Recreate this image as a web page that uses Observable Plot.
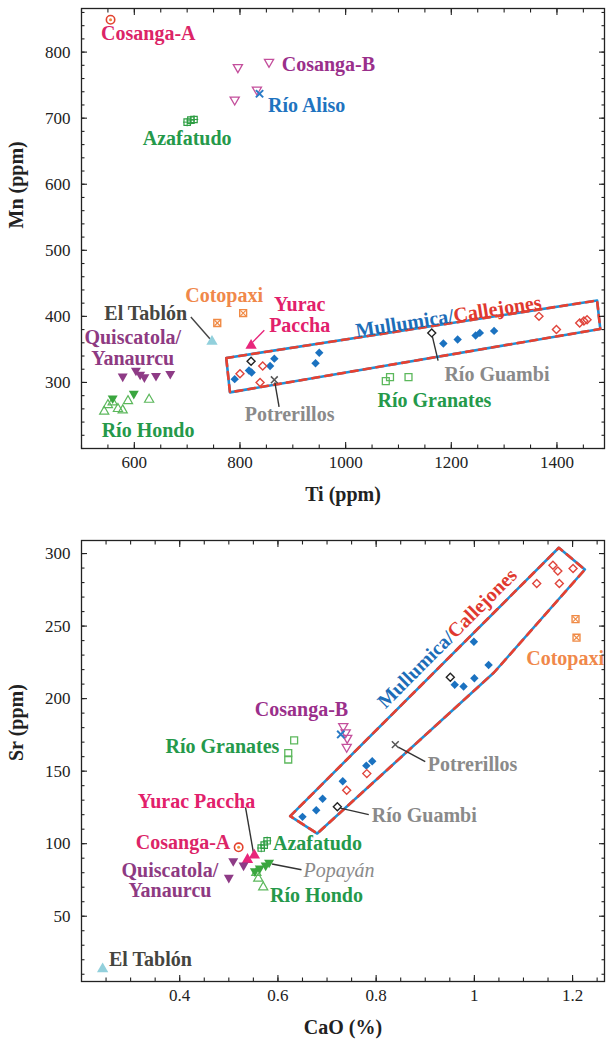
<!DOCTYPE html>
<html><head><meta charset="utf-8">
<script src="https://cdn.jsdelivr.net/npm/d3@7"></script>
<script src="https://cdn.jsdelivr.net/npm/@observablehq/plot@0.6"></script>
<style>
body{margin:0;background:#fff;}
#chart svg{display:block;}
</style></head><body><div id="chart"></div>
<script>
// ===== Top panel data: [Ti (ppm), Mn (ppm)] =====
const cosangaA_TiMn   = [[555, 849]];
const cosangaB_TiMn   = [[796, 777], [855, 785], [790, 728], [832, 743]];
const rioAliso_TiMn   = [[837, 737]];
const azafatudo_TiMn  = [[700, 694], [707, 697], [713, 698]];
const cotopaxi_TiMn   = [[757, 390], [806, 405]];
const yurac_TiMn      = [[821, 356]];
const elTablon_TiMn   = [[747, 362]];
const quiscatola_TiMn = [[578, 309], [603, 318], [611, 312], [619, 308], [641, 310], [668, 313]];
const rioHondo_TiMn   = [[543, 256], [550, 266], [559, 270], [569, 260], [578, 258], [588, 272], [628, 274]];
const popayan_TiMn    = [[559, 276], [599, 283]];
const mullumica_TiMn  = [[790, 305], [817, 318], [822, 315], [857, 325], [865, 336], [943, 329], [950, 345],
                         [1185, 359], [1212, 365], [1246, 371], [1254, 375], [1281, 378]];
const callejones_TiMn = [[800, 313], [843, 325], [838, 300], [1366, 400], [1399, 380], [1443, 390], [1451, 393], [1457, 395]];
const rioGuambi_TiMn  = [[821, 332], [1163, 375]];
const potrerillos_TiMn= [[865, 304]];
const rioGranates_TiMn= [[1076, 302], [1084, 308], [1119, 308]];

// ===== Bottom panel data: [CaO (%), Sr (ppm)] =====
const cosangaA_CaSr   = [[0.52, 97.5]];
const cosangaB_CaSr   = [[0.733, 181], [0.738, 176.7], [0.741, 172.8], [0.74, 166.7]];
const rioAliso_CaSr   = [[0.728, 175.3]];
const azafatudo_CaSr  = [[0.566, 97], [0.572, 99], [0.578, 102]];
const cotopaxi_CaSr   = [[1.206, 254.8], [1.208, 242]];
const yurac_CaSr      = [[0.538, 89], [0.552, 92]];
const elTablon_CaSr   = [[0.243, 13.6]];
const quiscatola_CaSr = [[0.509, 88], [0.53, 85], [0.5, 76.6]];
const rioHondo_CaSr   = [[0.556, 80], [0.56, 76], [0.57, 70]];
const popayan_CaSr    = [[0.553, 81], [0.563, 83], [0.575, 85], [0.582, 87]];
const mullumica_CaSr  = [[0.65, 118.5], [0.678, 123], [0.691, 131], [0.732, 143], [0.78, 153.8], [0.792, 156.8],
                         [0.96, 209.5], [0.978, 208.3], [1.0, 214.1], [0.999, 239.2], [1.029, 223.2]];
const callejones_CaSr = [[0.74, 136.8], [0.781, 148.3], [1.127, 279.4], [1.16, 292], [1.17, 288], [1.173, 279.4], [1.201, 289.7]];
const rioGuambi_CaSr  = [[0.721, 125.4], [0.951, 214.8]];
const potrerillos_CaSr= [[0.839, 168.3]];
const rioGranates_CaSr= [[0.633, 171.2], [0.621, 162.5], [0.621, 158]];

// ===== Group outlines (Mullumica / Callejones fields) =====
const boxTop_TiMn  = [[774, 337], [1476, 424], [1482, 381], [781, 285], [774, 337]];
const boxBot_CaSr  = [[0.625, 119], [1.172, 304], [1.225, 289], [1.04, 218], [0.68, 107], [0.625, 119]];

// ===== Axis ticks =====
const tiMajor = [600, 800, 1000, 1200, 1400];
const tiMinor = d3.range(500, 1491, 50);
const mnMajor = [300, 400, 500, 600, 700, 800];
const mnMinor = d3.range(200, 867, 20);
const caMajor = [0.4, 0.6, 0.8, 1, 1.2];
const caMinor = d3.range(5, 26).map(i => +(i * 0.05).toFixed(2));
const srMajor = [50, 100, 150, 200, 250, 300];
const srMinor = d3.range(10, 301, 10);

// ===== Styles =====
const SERIF = "Liberation Serif";
const triDown = {draw(ctx, size) {
  const y = -Math.sqrt(size / (3 * Math.sqrt(3))), s3 = Math.sqrt(3);
  ctx.moveTo(0, -2 * y); ctx.lineTo(s3 * y, y); ctx.lineTo(-s3 * y, y); ctx.closePath();
}};
const C = {
  pink: "#dc2467", purple: "#9a2f8b", blue: "#1f74c0", green: "#25994a", orange: "#f0884a",
  quis: "#8e3a82", gray: "#8a8a8a", dark: "#45453f", red: "#e0392f", lblue: "#1c6db8"
};
const markStyle = {
  "Cosanga-A": [{symbol: "circle", r: 4.2, stroke: "#e2412f", sw: 1.6}, {symbol: "circle", r: 1.5, fill: "#f08a3c"}],
  "Cosanga-B": [{symbol: triDown, r: 3.4, stroke: "#c44f9c", sw: 1.3}],
  "Río Aliso": [{symbol: "times", r: 3.4, stroke: "#2a7bc6", sw: 2}],
  "Azafatudo": [{symbol: "square", r: 3.6, stroke: "#2f9e44", sw: 1.2}, {symbol: "plus", r: 2.8, stroke: "#2f9e44", sw: 1}],
  "Cotopaxi": [{symbol: "square", r: 3.9, stroke: "#f08a45", sw: 1.4}, {symbol: "times", r: 2.6, stroke: "#f08a45", sw: 1.2}],
  "Yurac Paccha": [{symbol: "triangle", r: 4.2, fill: "#e8267b"}],
  "El Tablón": [{symbol: "triangle", r: 4.2, fill: "#92d0dc"}],
  "Quiscatola": [{symbol: triDown, r: 3.7, fill: "#8e3b86"}],
  "Río Hondo": [{symbol: "triangle", r: 3.4, stroke: "#5cb85c", sw: 1.2}],
  "Popayán": [{symbol: triDown, r: 3.7, fill: "#3aa63f"}],
  "Mullumica": [{symbol: "diamond2", r: 3.8, fill: "#1b72c0"}],
  "Callejones": [{symbol: "diamond2", r: 3.6, stroke: "#e0453c", sw: 1.4}],
  "Río Guambi": [{symbol: "diamond2", r: 3.6, stroke: "#222", sw: 1.4}],
  "Potrerillos": [{symbol: "times", r: 3.2, stroke: "#555", sw: 1.5}],
  "Río Granates": [{symbol: "square", r: 3.9, stroke: "#5cb85c", sw: 1.3}]
};

const topSeries = [
  ["Mullumica", mullumica_TiMn], ["Callejones", callejones_TiMn], ["Cosanga-A", cosangaA_TiMn],
  ["Cosanga-B", cosangaB_TiMn], ["Río Aliso", rioAliso_TiMn], ["Azafatudo", azafatudo_TiMn],
  ["Cotopaxi", cotopaxi_TiMn], ["Yurac Paccha", yurac_TiMn], ["El Tablón", elTablon_TiMn],
  ["Quiscatola", quiscatola_TiMn], ["Río Hondo", rioHondo_TiMn], ["Popayán", popayan_TiMn],
  ["Río Guambi", rioGuambi_TiMn], ["Potrerillos", potrerillos_TiMn], ["Río Granates", rioGranates_TiMn]
];
const botSeries = [
  ["Mullumica", mullumica_CaSr], ["Callejones", callejones_CaSr], ["Cosanga-A", cosangaA_CaSr],
  ["Cosanga-B", cosangaB_CaSr], ["Río Aliso", rioAliso_CaSr], ["Azafatudo", azafatudo_CaSr],
  ["Cotopaxi", cotopaxi_CaSr], ["Yurac Paccha", yurac_CaSr], ["El Tablón", elTablon_CaSr],
  ["Quiscatola", quiscatola_CaSr], ["Río Hondo", rioHondo_CaSr], ["Popayán", popayan_CaSr],
  ["Río Guambi", rioGuambi_CaSr], ["Potrerillos", potrerillos_CaSr], ["Río Granates", rioGranates_CaSr]
];

// label annotations: [text, x, y, color, textAnchor, italic]
const topLabels = [
  ["Cosanga-A", 537, 828, C.pink, "start"],
  ["Cosanga-B", 879, 782, C.purple, "start"],
  ["Río Aliso", 853, 719, C.blue, "start"],
  ["Azafatudo", 700, 669, C.green, "middle"],
  ["Cotopaxi", 770, 432, C.orange, "middle"],
  ["Yurac\nPaccha", 913, 402, "#e2206b", "middle"],
  ["El Tablón", 700, 404, C.dark, "end"],
  ["Quiscatola/\nYanaurcu", 597, 352, C.quis, "middle"],
  ["Río Hondo", 626, 228, C.green, "middle"],
  ["Río Guambi", 1187, 312, C.gray, "start"],
  ["Río Granates", 1168, 272, C.green, "middle"],
  ["Potrerillos", 894, 252, C.gray, "middle"]
];
const botLabels = [
  ["Cosanga-B", 0.648, 192.5, C.purple, "middle"],
  ["Río Granates", 0.603, 167, C.green, "end"],
  ["Cotopaxi", 1.264, 228, C.orange, "end"],
  ["Potrerillos", 0.905, 154.5, C.gray, "start"],
  ["Río Guambi", 0.791, 119.4, C.gray, "start"],
  ["Yurac Paccha", 0.434, 129.3, "#e2206b", "middle"],
  ["Cosanga-A", 0.503, 101, C.pink, "end"],
  ["Azafatudo", 0.59, 100, C.green, "start"],
  ["Quiscatola/\nYanaurcu", 0.38, 74.6, C.quis, "middle"],
  ["Popayán", 0.652, 81.2, C.gray, "start", true],
  ["Río Hondo", 0.584, 64, C.green, "start"],
  ["El Tablón", 0.256, 20.5, C.dark, "start"]
];
// leader lines: [x1, y1, x2, y2, color]
const topLeaders = [
  [707, 399, 743, 366, "#444"], [846, 379, 824, 361, "#e8267b"],
  [1164, 370, 1175, 333, "#333"], [866, 300, 874, 263, "#333"]
];
const botLeaders = [
  [0.845, 166.5, 0.90, 156.5, "#333"], [0.727, 124.5, 0.785, 120, "#333"],
  [0.534, 125, 0.55, 94, "#333"], [0.588, 86, 0.648, 82, "#333"]
];

// ===== Mark builders =====
function pointMarks(series) {
  return series.flatMap(([name, pts]) => markStyle[name].map(s => Plot.dot(pts, {
    x: d => d[0], y: d => d[1], symbol: s.symbol, r: s.r,
    fill: s.fill ?? "none", stroke: s.stroke ?? "none", strokeWidth: s.sw ?? 1
  })));
}
function labelMarks(labels) {
  return labels.map(([t, x, y, color, anchor, italic]) => Plot.text([{t, x, y}], {
    x: "x", y: "y", text: "t", fill: color, textAnchor: anchor, lineAnchor: "middle",
    fontSize: 20, fontWeight: italic ? "normal" : "bold", fontStyle: italic ? "italic" : "normal",
    lineHeight: 1.02, fontFamily: SERIF
  }));
}
function leaderMarks(links) {
  return links.map(l => Plot.link([l], {x1: d => d[0], y1: d => d[1], x2: d => d[2], y2: d => d[3], stroke: l[4], strokeWidth: 1.4}));
}
function boxMarks(pts) {
  return [
    Plot.line(pts, {x: d => d[0], y: d => d[1], stroke: "#1f8fd6", strokeWidth: 2.6, strokeLinejoin: "round"}),
    Plot.line(pts, {x: d => d[0], y: d => d[1], stroke: "#e8402f", strokeWidth: 2.6, strokeDasharray: "7,6", strokeLinejoin: "round"})
  ];
}
function tickMarks(xMaj, xMin, yMaj, yMin) {
  const st = {stroke: "#222", strokeWidth: 1.1, text: null, label: null};
  return [
    Plot.axisX(xMaj, {anchor: "bottom", tickSize: -6, ...st}),
    Plot.axisX(xMin, {anchor: "bottom", tickSize: -3.5, ...st}),
    Plot.axisX(xMaj, {anchor: "top", tickSize: -6, ...st}),
    Plot.axisX(xMin, {anchor: "top", tickSize: -3.5, ...st}),
    Plot.axisY(yMaj, {anchor: "left", tickSize: -6, ...st}),
    Plot.axisY(yMin, {anchor: "left", tickSize: -3.5, ...st}),
    Plot.axisY(yMaj, {anchor: "right", tickSize: -6, ...st}),
    Plot.axisY(yMin, {anchor: "right", tickSize: -3.5, ...st}),
    Plot.axisX(xMaj, {anchor: "bottom", tickSize: 0, tickPadding: 7, fontSize: 17, fill: "#222", label: null, fontFamily: SERIF, tickFormat: d => String(d)}),
    Plot.axisY(yMaj, {anchor: "left", tickSize: 0, tickPadding: 11, fontSize: 17, fill: "#222", label: null, fontFamily: SERIF, tickFormat: d => String(d)})
  ];
}
function titleMarks(xTitle, yTitle) {
  return [
    Plot.text([xTitle], {frameAnchor: "bottom", lineAnchor: "middle", dy: 46, fontSize: 20, fontWeight: "bold", fill: "#222", fontFamily: SERIF}),
    Plot.text([yTitle], {frameAnchor: "left", lineAnchor: "middle", dx: -65, rotate: -90, fontSize: 20, fontWeight: "bold", fill: "#222", fontFamily: SERIF})
  ];
}
function splitLabel(x, y, angle) {
  const o = {lineAnchor: "middle", rotate: angle, fontSize: 20, fontWeight: "bold", fontFamily: SERIF};
  return [
    Plot.text([{x, y}], {x: "x", y: "y", text: () => "Mullumica/", textAnchor: "end", fill: C.lblue, ...o}),
    Plot.text([{x, y}], {x: "x", y: "y", text: () => "Callejones", textAnchor: "start", fill: C.red, ...o})
  ];
}

const topPlot = Plot.plot({
  width: 608, height: 510,
  marginTop: 8, marginBottom: 62, marginLeft: 81, marginRight: 4,
  x: {domain: [500, 1490], axis: null},
  y: {domain: [200, 866], axis: null},
  style: {background: "white", overflow: "visible"},
  marks: [
    ...boxMarks(boxTop_TiMn),
    ...leaderMarks(topLeaders),
    ...pointMarks(topSeries),
    ...labelMarks(topLabels),
    ...splitLabel(1204, 401, -8.8),
    Plot.frame({stroke: "#222", strokeWidth: 1.3}),
    ...tickMarks(tiMajor, tiMinor, mnMajor, mnMinor),
    ...titleMarks("Ti (ppm)", "Mn (ppm)")
  ]
});

const botPlot = Plot.plot({
  width: 608, height: 531,
  marginTop: 30, marginBottom: 60, marginLeft: 81, marginRight: 4,
  x: {domain: [0.2, 1.265], axis: null},
  y: {domain: [5, 309], axis: null},
  style: {background: "white", overflow: "visible"},
  marks: [
    ...boxMarks(boxBot_CaSr),
    ...leaderMarks(botLeaders),
    ...pointMarks(botSeries),
    ...labelMarks(botLabels),
    ...splitLabel(0.952, 244, -45),
    Plot.frame({stroke: "#222", strokeWidth: 1.3}),
    ...tickMarks(caMajor, caMinor, srMajor, srMinor),
    ...titleMarks("CaO (%)", "Sr (ppm)")
  ]
});

document.getElementById("chart").append(topPlot, botPlot);
</script>
</body></html>
